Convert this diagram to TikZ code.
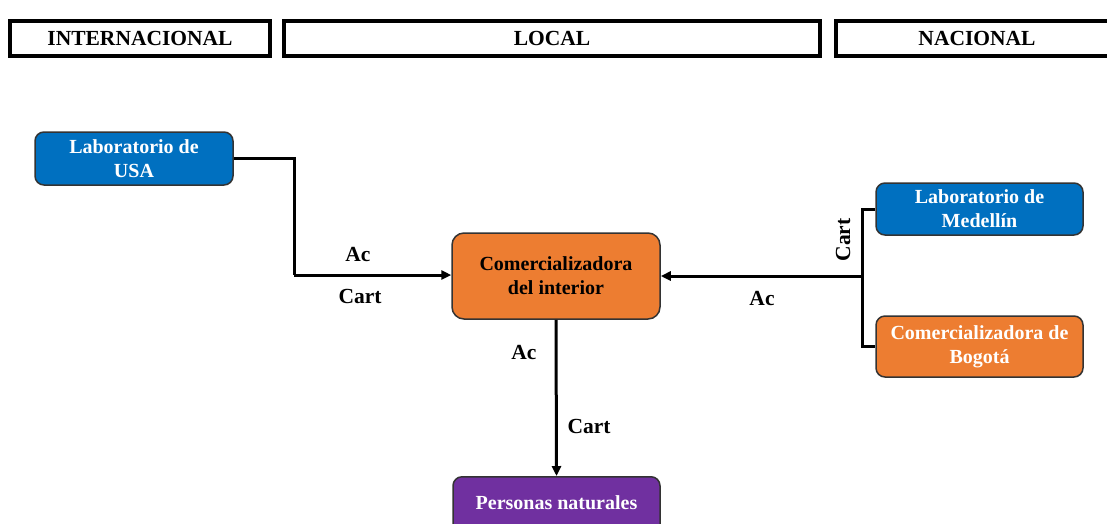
\documentclass[tikz,border=0pt]{standalone}
\usepackage{fontspec}
\setmainfont{Liberation Serif}
\usetikzlibrary{arrows.meta}
\definecolor{cblue}{HTML}{0070C0}
\definecolor{corange}{HTML}{ED7D31}
\definecolor{cpurple}{HTML}{7030A0}
\tikzset{
  hdr/.style={draw=black, line width=3.5pt, fill=white, inner sep=0pt, font=\fontsize{21.5}{24}\selectfont\bfseries},
  ent/.style={draw=black!80, line width=1.5pt, rounded corners=9pt, inner sep=0pt, align=center, font=\fontsize{20}{24}\selectfont\bfseries},
  conn/.style={line width=3pt, -{Triangle[length=10pt,width=9pt]}},
  plain/.style={line width=3pt},
  lbl/.style={font=\fontsize{21.5}{24}\selectfont\bfseries, inner sep=1pt}
}
\begin{document}
\begin{tikzpicture}[x=1pt,y=-1pt]
\useasboundingbox (0,0) rectangle (1107,523);
\begin{scope}
\clip (0,0) rectangle (1107,523);
% headers
\node[hdr, minimum width=260pt, minimum height=35pt] (hint) at (140,38.5) {INTERNACIONAL};
\node[hdr, minimum width=536pt, minimum height=35pt] (hloc) at (552,38.5) {LOCAL};
\node[hdr, minimum width=290pt, minimum height=35pt] (hnac) at (981,38.5) {};
\node[font=\fontsize{21.5}{24}\selectfont\bfseries] (hnact) at (977,38.5) {NACIONAL};
% entities
\node[ent, fill=cblue, text=white, minimum width=198pt, minimum height=53pt] (usa) at (134,158.5) {Laboratorio de\\USA};
\node[ent, fill=corange, text=black, minimum width=208pt, minimum height=86pt, rounded corners=12pt] (ci) at (556,276) {Comercializadora\\del interior};
\node[ent, fill=cblue, text=white, minimum width=207pt, minimum height=52pt] (med) at (979.5,209) {Laboratorio de\\Medellín};
\node[ent, fill=corange, text=white, minimum width=207pt, minimum height=61pt] (bog) at (979.5,346.5) {Comercializadora de\\Bogotá};
\node[ent, fill=cpurple, text=white, minimum width=207pt, minimum height=70pt, anchor=north] (pn) at (556.5,476) {};
\node[font=\fontsize{20}{24}\selectfont\bfseries, text=white] (pnt) at (556.5,503) {Personas naturales};
\end{scope}
% connectors
\coordinate (j1) at (294,158.5);
\coordinate (j2) at (294,275);
\draw[plain] (usa.east) -- (j1) -- (j2);
\draw[conn] (j2) -- (ci.west |- j2);
\coordinate (r1) at (862,209);
\coordinate (r2) at (862,346.5);
\coordinate (r3) at (862,276);
\draw[plain] (med.west) -- (r1) -- (r2) -- (bog.west);
\draw[conn] (r3) -- (ci.east |- r3);
\draw[conn] (ci.south) -- (pn.north);
% labels
\node[lbl] (l1) at (358,254) {Ac};
\node[lbl] (l2) at (360,296) {Cart};
\node[lbl, rotate=90] (l3) at (843,240) {Cart};
\node[lbl] (l4) at (762,298) {Ac};
\node[lbl] (l5) at (524,352) {Ac};
\node[lbl] (l6) at (589,426) {Cart};
\end{tikzpicture}
\end{document}
